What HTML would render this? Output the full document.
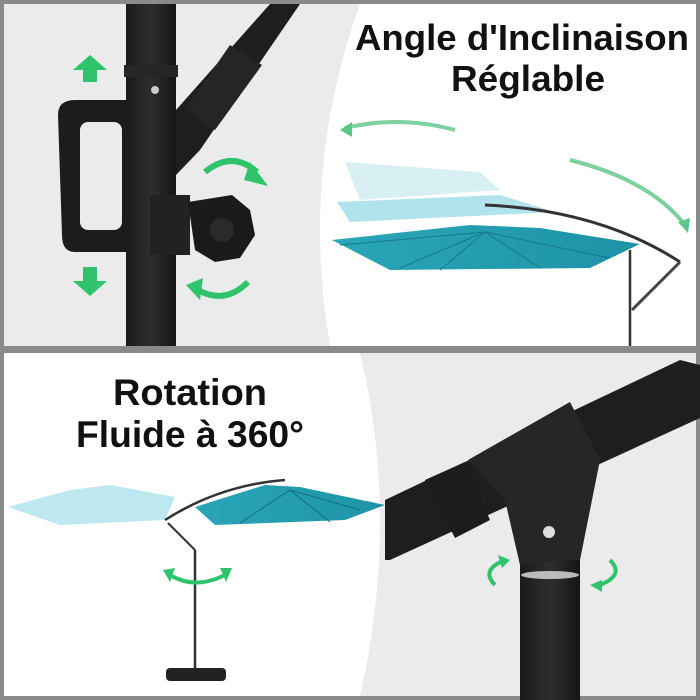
<!DOCTYPE html>
<html><head><style>
html,body{margin:0;padding:0;background:#fff;}
svg{display:block;}
text{font-family:"Liberation Sans","DejaVu Sans",sans-serif;font-weight:bold;fill:#111;}
</style></head><body>
<svg width="700" height="700" viewBox="0 0 700 700" xmlns="http://www.w3.org/2000/svg">
<defs>
<linearGradient id="pole" x1="0" x2="1" y1="0" y2="0">
<stop offset="0" stop-color="#1a1a1a"/><stop offset="0.5" stop-color="#2e2e2e"/><stop offset="1" stop-color="#151515"/></linearGradient>
<linearGradient id="teal" x1="0" x2="1"><stop offset="0" stop-color="#2aa6b8"/><stop offset="1" stop-color="#1d93a6"/></linearGradient>
</defs>
<rect width="700" height="700" fill="#8a8a8a"/>
<rect x="4" y="4" width="692" height="342" fill="#ebebeb"/>
<path d="M360 4 L696 4 L696 346 L330 346 Q300 170 360 4Z" fill="#fff"/>
<rect x="4" y="353" width="692" height="343" fill="#ebebeb"/>
<path d="M4 353 L360 353 Q400 520 360 696 L4 696Z" fill="#fff"/>

<rect x="126" y="4" width="50" height="342" fill="url(#pole)"/>
<polygon points="176,110 270,4 300,4 200,150 176,175" fill="#1e1e1e"/>
<polygon points="185,110 230,45 262,65 215,130" fill="#252525"/>
<rect x="124" y="65" width="54" height="12" fill="#262626"/>
<circle cx="155" cy="90" r="4" fill="#ccc"/>
<path d="M58 115 Q58 100 75 100 L130 100 L130 252 L75 252 Q62 252 62 235Z" fill="#1c1c1c"/>
<rect x="80" y="122" width="42" height="108" rx="8" fill="#ebebeb"/>
<rect x="150" y="195" width="40" height="60" fill="#222"/>
<path d="M188 202 L232 195 L250 210 L255 235 L240 258 L215 262 L195 250Z" fill="#1a1a1a"/>
<circle cx="222" cy="230" r="12" fill="#2a2a2a"/>
<g fill="#2fc46c">
<polygon points="90,55 73,70 83,70 83,82 97,82 97,70 107,70"/>
<polygon points="90,296 73,281 83,281 83,267 97,267 97,281 107,281"/>
</g>
<g fill="none" stroke="#2fc46c" stroke-width="6">
<path d="M205 172 Q232 150 257 172"/>
<path d="M248 282 Q225 305 198 290"/>
</g>
<polygon points="250,162 268,186 244,180" fill="#2fc46c"/>
<polygon points="186,285 203,278 200,300" fill="#2fc46c"/>

<text x="522" y="50" font-size="36" text-anchor="middle" textLength="334" lengthAdjust="spacingAndGlyphs">Angle d'Inclinaison</text>
<text x="528" y="91" font-size="36" text-anchor="middle" textLength="154" lengthAdjust="spacingAndGlyphs">Réglable</text>

<path d="M345 128 Q400 115 455 130" fill="none" stroke="#7fd0a0" stroke-width="4"/>
<polygon points="340,130 352,122 352,137" fill="#5bc688"/>
<path d="M570 160 Q650 180 685 225" fill="none" stroke="#7fd0a0" stroke-width="4"/>
<polygon points="688,233 678,222 690,218" fill="#5bc688"/>
<polygon points="345,162 480,172 500,190 360,200" fill="#d4eef3" opacity="0.9"/>
<polygon points="337,202 500,195 555,212 350,222" fill="#a9e0ea" opacity="0.9"/>
<polygon points="332,240 470,225 540,228 640,244 590,268 390,270" fill="url(#teal)"/>
<g stroke="#157a8a" stroke-width="1" fill="none">
<line x1="485" y1="232" x2="400" y2="268"/><line x1="485" y1="232" x2="440" y2="270"/>
<line x1="485" y1="232" x2="540" y2="268"/><line x1="485" y1="232" x2="610" y2="258"/>
<line x1="485" y1="232" x2="340" y2="245"/>
</g>
<path d="M485 205 Q600 210 680 262" fill="none" stroke="#333" stroke-width="3"/>
<line x1="630" y1="250" x2="630" y2="346" stroke="#333" stroke-width="2.5"/>
<line x1="680" y1="262" x2="632" y2="310" stroke="#444" stroke-width="3"/>

<text x="190" y="405" font-size="37" text-anchor="middle" textLength="154" lengthAdjust="spacingAndGlyphs">Rotation</text>
<text x="190" y="447" font-size="37" text-anchor="middle" textLength="228" lengthAdjust="spacingAndGlyphs">Fluide à 360°</text>

<polygon points="8,507 70,490 110,485 175,497 165,520 60,525" fill="#bde8ef"/>
<polygon points="195,507 265,485 300,487 385,505 345,520 215,525" fill="url(#teal)"/>
<g stroke="#146f7d" stroke-width="1"><line x1="290" y1="490" x2="240" y2="523"/><line x1="290" y1="490" x2="330" y2="522"/><line x1="290" y1="490" x2="360" y2="510"/></g>
<path d="M165 520 Q220 485 285 480" fill="none" stroke="#333" stroke-width="2.5"/>
<line x1="195" y1="550" x2="195" y2="680" stroke="#333" stroke-width="2.5"/>
<line x1="168" y1="523" x2="195" y2="550" stroke="#333" stroke-width="2"/>
<rect x="166" y="668" width="60" height="13" rx="4" fill="#222"/>
<path d="M170 575 Q195 590 225 575" fill="none" stroke="#2fc46c" stroke-width="4"/>
<polygon points="163,570 175,568 170,582" fill="#2fc46c"/>
<polygon points="232,568 220,568 226,582" fill="#2fc46c"/>

<rect x="520" y="560" width="60" height="140" fill="url(#pole)"/>
<polygon points="385,500 680,360 700,365 700,418 390,560 385,560" fill="#1e1e1e"/>
<polygon points="468,460 570,402 600,460 580,560 520,565 505,500" fill="#262626"/>
<polygon points="425,480 465,462 490,520 455,538" fill="#1c1c1c"/>
<circle cx="549" cy="532" r="6" fill="#ddd"/>
<ellipse cx="550" cy="575" rx="29" ry="4" fill="#bbb"/>
<g fill="none" stroke="#2fc46c" stroke-width="4">
<path d="M505 560 Q480 570 495 585"/>
<path d="M600 585 Q625 575 610 560"/>
</g>
<polygon points="498,555 510,560 502,568" fill="#2fc46c"/>
<polygon points="590,585 602,580 602,592" fill="#2fc46c"/>
</svg>
</body></html>
